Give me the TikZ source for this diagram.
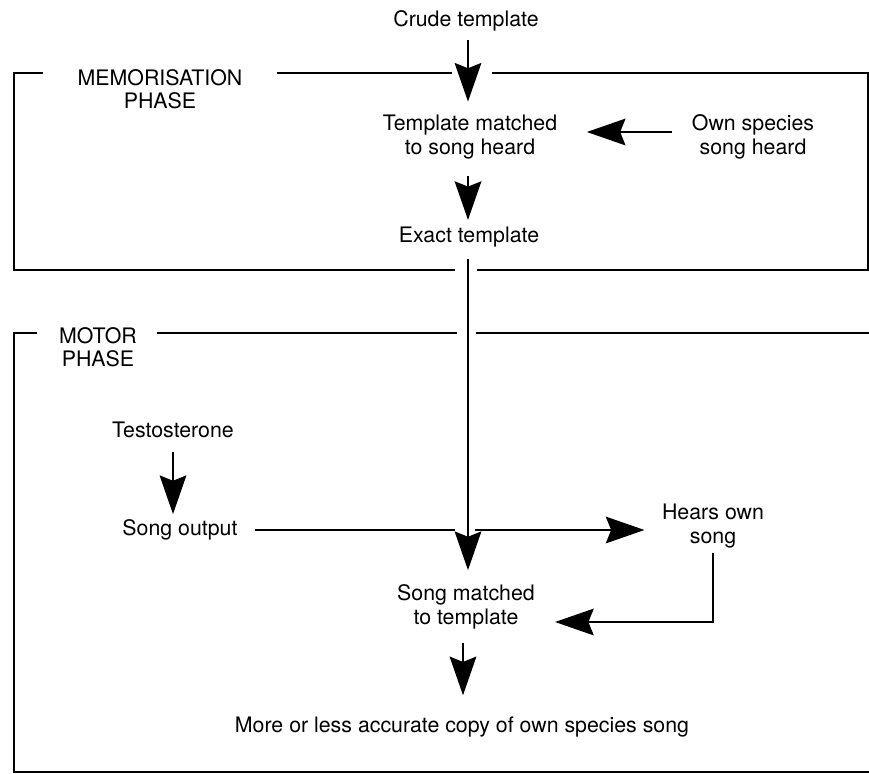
\documentclass[tikz,border=0pt]{standalone}
\usepackage{fontspec}
\setmainfont{TeX Gyre Heros}
\usetikzlibrary{arrows.meta,calc}

\tikzset{
	stage/.style={align=center,font=\fontsize{16}{17.5}\selectfont,inner sep=2pt},
	phase/.style={stage},
	flow/.style={line width=1.4pt,-{Stealth[length=29pt,width=20pt,inset=4pt]}},
	frame/.style={line width=1.7pt},
}

\begin{document}
\begin{tikzpicture}[x=0.75pt,y=0.75pt,yscale=-1,xscale=1]
	\useasboundingbox (0,0) rectangle (869,774);
	\node[stage] (crude) at (466,21) {Crude template};
	\node[phase] (memo) at (160,89) {MEMORISATION\\PHASE};
	\node[stage] (tmatch) at (470,137) {Template matched\\to song heard};
	\node[stage] (own) at (753,137) {Own species\\song heard};
	\node[stage] (exact) at (469,237) {Exact template};
	\node[phase] (motor) at (98,347) {MOTOR\\PHASE};
	\node[stage] (testo) at (173,430) {Testosterone};
	\node[stage] (songout) at (180,530) {Song output};
	\node[stage] (hears) at (713,526) {Hears own\\song};
	\node[stage] (matched) at (466,607) {Song matched\\to template};
	\node[stage] (copy) at (462,727) {More or less accurate copy of own species song};
	\coordinate (stem) at (468,0);
	\coordinate (gapL) at (455,530);
	\coordinate (gapR) at (475,530);
	\coordinate (back) at ($(matched.east)+(0,15)$);
	\coordinate (down) at (463,0);

	\draw[frame] (43,73) -- (14,73) -- (14,270) -- (455,270);
	\draw[frame] (477,270) -- (868,270) -- (868,73) -- (492,73);
	\draw[frame] (277,73) -- (452,73);
	\draw[frame] (37,333) -- (14,333) -- (14,772) -- (869,772);
	\draw[frame] (157,333) -- (457,333);
	\draw[frame] (476,333) -- (869,333);

	\draw[flow,shorten <=4pt,shorten >=8pt] (stem |- crude.south) -- (stem |- tmatch.north);
	\draw[flow,shorten <=13pt,shorten >=20pt] ($(own.west)+(0,-5)$) -- ($(tmatch.east)+(0,-5)$);
	\draw[flow,shorten <=11pt,shorten >=3pt] (stem |- tmatch.south) -- (stem |- exact.north);
	\draw[flow,shorten <=7pt,shorten >=9pt] (stem |- exact.south) -- (stem |- matched.north);
	\draw[flow,shorten <=8pt,shorten >=2pt] (testo.south) -- (testo.south |- songout.north);
	\draw[line width=1.4pt,shorten <=11pt] (songout.east |- gapL) -- (gapL);
	\draw[flow,shorten >=11pt] (gapR) -- (gapR -| hears.west);
	\draw[flow,shorten <=2pt,shorten >=13pt] (hears.south) |- (back);
	\draw[flow,shorten <=8pt,shorten >=14pt] (down |- matched.south) -- (down |- copy.north);
\end{tikzpicture}
\end{document}
